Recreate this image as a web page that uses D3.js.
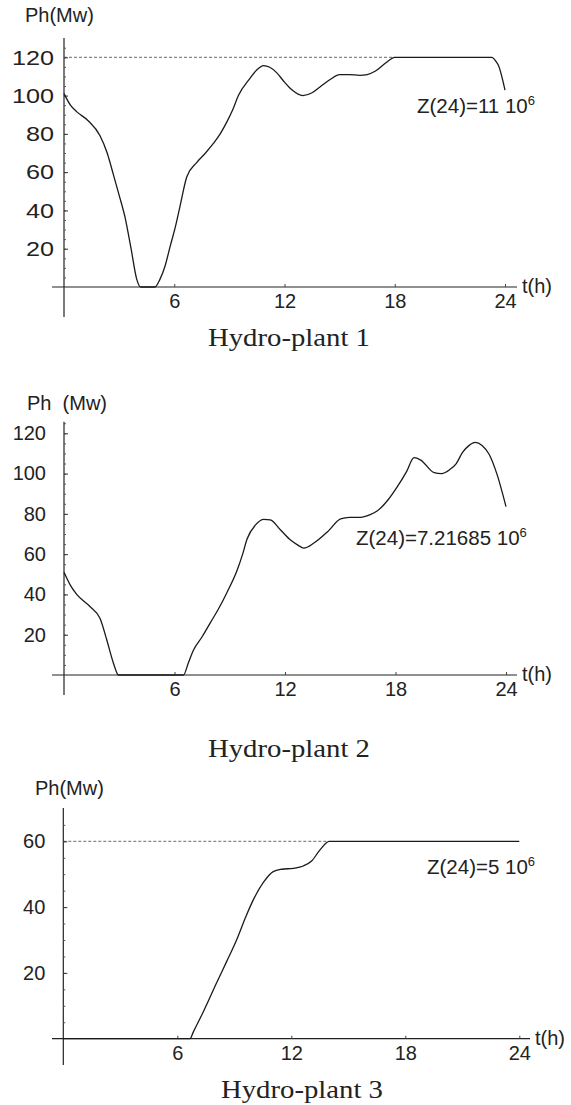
<!DOCTYPE html>
<html>
<head>
<meta charset="utf-8">
<script src="https://cdn.jsdelivr.net/npm/d3@7"></script>
<style>
  body { margin: 0; background: #fff; }
  svg { display: block; }
  text { fill: #222; }
</style>
</head>
<body>
<div class="chart"></div>
<script>
// Plant 1: hours and power (Mw)
const hours1 = [0, 0.35, 0.7, 1.3, 1.96, 2.35, 2.68, 3.0, 3.32, 3.65, 3.96, 4.17, 4.95, 5.22, 5.5, 5.77, 6.05, 6.31, 6.68, 7.22, 7.7, 8.13, 8.5, 8.85, 9.2, 9.49, 10.12, 10.5, 10.85, 11.2, 11.57, 12, 12.4, 13.0, 13.5, 13.93, 14.5, 15.0, 15.5, 16.1, 16.5, 16.93, 17.5, 18.0, 23.28, 23.5, 23.64, 24];
const power1 = [101, 95, 91.5, 87, 79, 70, 59, 48, 36.5, 20, 4, 0, 0, 4, 11, 21, 31, 42, 57.5, 65, 70, 75, 80, 86, 93, 100, 109, 113.5, 115.7, 114.8, 112, 107, 103, 100, 101.5, 104.5, 108.5, 111, 111, 110.6, 111, 112.7, 117, 120, 120, 118, 115.8, 102.8];

// Plant 2
const hours2 = [0, 0.35, 0.69, 1.41, 1.96, 2.32, 2.68, 2.96, 6.49, 6.75, 7.04, 7.5, 7.95, 8.4, 8.85, 9.4, 9.7, 9.94, 10.4, 10.85, 11.2, 11.76, 12.3, 12.7, 13.02, 13.57, 14.3, 15.02, 15.5, 16.1, 16.6, 17.02, 17.6, 18.1, 18.6, 19.01, 19.37, 20.1, 20.5, 20.92, 21.3, 21.64, 22.0, 22.33, 22.7, 23.09, 23.5, 24];
const power2 = [51, 44.5, 40, 34, 28, 17.5, 6, 0, 0, 6, 12.5, 19, 26, 33, 41, 52, 60, 67.5, 74.5, 77.3, 77, 72, 67, 64.5, 63, 65.5, 71, 77.5, 78.3, 78.3, 79.5, 81.5, 87, 93.5, 101, 107.9, 106.7, 100.5, 100, 101.8, 105, 110.5, 114, 115.5, 114, 109.5, 100, 83.6];

// Plant 3
const hours3 = [0, 6.67, 6.84, 7.37, 8.07, 8.6, 9.12, 9.6, 10.0, 10.53, 11.05, 11.5, 12.1, 12.63, 13.07, 13.51, 14.0, 24];
const power3 = [0, 0, 2, 8.2, 17, 23.5, 30, 37, 42.2, 47.5, 50.8, 51.5, 51.8, 52.5, 54, 57.4, 60, 60];

const xTicks = [6, 12, 18, 24];
const yTicks12 = [20, 40, 60, 80, 100, 120];
const yTicks3 = [20, 40, 60];
const titles = ["Hydro-plant 1", "Hydro-plant 2", "Hydro-plant 3"];
const notes = [["Z(24)=11 10", "6"], ["Z(24)=7.21685 10", "6"], ["Z(24)=5 10", "6"]];
const yLabels = ["Ph(Mw)", "Ph\u00a0\u00a0(Mw)", "Ph(Mw)"];
const limits = [120, null, 60];      // dashed max-power line
const limitEnd = [18, null, 14];     // where curve reaches it

// layout of each panel (pixels)
const panels = [
  { hours: hours1, power: power1, yMax: 120, yTicks: yTicks12,
    x0: 64, x1: 505, yBase: 287, yTop: 57.3, axTop: 38, axBot: 317, xEnd: 517,
    labPad: 10, labSize: 21, labStretch: 1.2, yLab: [25, 22], note: [417, 113], titleX: 289, titleY: 346 },
  { hours: hours2, power: power2, yMax: 120, yTicks: yTicks12,
    x0: 64, x1: 506, yBase: 675, yTop: 433.3, axTop: 421.7, axBot: 695, xEnd: 517,
    labPad: 18, labSize: 20, labStretch: 1, yLab: [27, 410], note: [356, 545], titleX: 289, titleY: 757 },
  { hours: hours3, power: power3, yMax: 60, yTicks: yTicks3,
    x0: 63.3, x1: 519.3, yBase: 1038.7, yTop: 841.3, axTop: 808, axBot: 1065, xEnd: 530,
    labPad: 18, labSize: 20, labStretch: 1, yLab: [35, 795], note: [427, 874], titleX: 302, titleY: 1098 }
];

const svg = d3.select(".chart").append("svg")
  .attr("width", 571)
  .attr("height", 1105)
  .style("font-family", "'Liberation Sans', Arial, sans-serif");

panels.forEach((p, i) => {
  const x = d3.scaleLinear().domain([0, 24]).range([p.x0, p.x1]);
  const y = d3.scaleLinear().domain([0, p.yMax]).range([p.yBase, p.yTop]);
  const g = svg.append("g");

  // axis lines
  g.append("line")
    .attr("x1", p.x0).attr("x2", p.x0)
    .attr("y1", p.axTop).attr("y2", p.axBot)
    .attr("stroke", "#222").attr("stroke-width", 1.2);
  g.append("line")
    .attr("x1", 52).attr("x2", p.xEnd)
    .attr("y1", p.yBase).attr("y2", p.yBase)
    .attr("stroke", "#222").attr("stroke-width", 1.2);

  // x ticks
  const xa = g.append("g")
    .attr("transform", `translate(0,${p.yBase})`)
    .call(d3.axisBottom(x).tickValues(xTicks).tickSizeInner(-3).tickSizeOuter(0).tickPadding(7));
  xa.select(".domain").remove();
  xa.selectAll("line").attr("stroke", "#444");
  xa.selectAll("text").attr("font-size", 20).attr("font-family", "'Liberation Sans', Arial, sans-serif").style("fill", "#222");

  // minor y ticks
  const minor = d3.range(5, p.yMax + 6, 5).filter(v => y(v) > p.axTop + 1);
  const ym = g.append("g")
    .attr("transform", `translate(${p.x0},0)`)
    .call(d3.axisLeft(y).tickValues(minor).tickSizeInner(-2).tickSizeOuter(0).tickFormat(""));
  ym.select(".domain").remove();
  ym.selectAll("line").attr("stroke", "#555");

  // major y ticks
  const ya = g.append("g")
    .attr("transform", `translate(${p.x0},0)`)
    .call(d3.axisLeft(y).tickValues(p.yTicks).tickSizeInner(-4).tickSizeOuter(0).tickPadding(p.labPad));
  ya.select(".domain").remove();
  ya.selectAll("line").attr("stroke", "#333");
  ya.selectAll("text")
    .attr("font-size", p.labSize)
    .attr("font-family", "'Liberation Sans', Arial, sans-serif")
    .style("fill", "#222")
    .each(function (d) {
      if (p.labStretch !== 1) {
        const s = String(d);
        d3.select(this).attr("textLength", s.length * 0.556 * p.labSize * p.labStretch).attr("lengthAdjust", "spacingAndGlyphs");
      }
    });

  // dashed limit
  if (limits[i] !== null) {
    g.append("line")
      .attr("x1", x(0)).attr("x2", x(limitEnd[i]))
      .attr("y1", y(limits[i])).attr("y2", y(limits[i]))
      .attr("stroke", "#444").attr("stroke-width", 0.8)
      .attr("stroke-dasharray", "3,2");
  }

  // curve
  const pts = p.hours.map((h, k) => [h, p.power[k]]);
  const line = d3.line()
    .x(d => x(d[0]))
    .y(d => y(d[1]))
    .curve(d3.curveMonotoneX);
  g.append("path")
    .datum(pts)
    .attr("d", line)
    .attr("fill", "none")
    .attr("stroke", "#1a1a1a")
    .attr("stroke-width", 1.3);

  // labels
  g.append("text")
    .attr("x", p.yLab[0]).attr("y", p.yLab[1])
    .attr("font-size", 20)
    .text(yLabels[i]);
  g.append("text")
    .attr("x", p.xEnd + 5).attr("y", p.yBase + 6)
    .attr("font-size", 20)
    .text("t(h)");

  const note = g.append("text")
    .attr("x", p.note[0]).attr("y", p.note[1])
    .attr("font-size", 20.5)
    .text(notes[i][0]);
  note.append("tspan")
    .attr("dy", -8)
    .attr("font-size", 13)
    .text(notes[i][1]);

  g.append("text")
    .attr("x", p.titleX).attr("y", p.titleY)
    .attr("text-anchor", "middle")
    .attr("font-family", "'Liberation Serif', 'Times New Roman', serif")
    .attr("font-size", 25)
    .attr("textLength", 162)
    .attr("lengthAdjust", "spacingAndGlyphs")
    .text(titles[i]);
});
</script>
</body>
</html>
